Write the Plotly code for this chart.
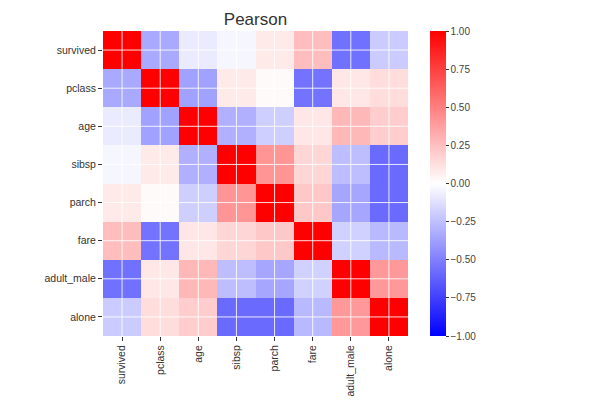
import plotly.graph_objects as go

labels = ["survived", "pclass", "age", "sibsp", "parch", "fare", "adult_male", "alone"]

corr = [
    [1.000, -0.338, -0.077, -0.035, 0.082, 0.257, -0.557, -0.203],
    [-0.338, 1.000, -0.369, 0.083, 0.018, -0.549, 0.094, 0.135],
    [-0.077, -0.369, 1.000, -0.308, -0.189, 0.096, 0.280, 0.198],
    [-0.035, 0.083, -0.308, 1.000, 0.415, 0.160, -0.254, -0.584],
    [0.082, 0.018, -0.189, 0.415, 1.000, 0.216, -0.350, -0.583],
    [0.257, -0.549, 0.096, 0.160, 0.216, 1.000, -0.182, -0.274],
    [-0.557, 0.094, 0.280, -0.254, -0.350, -0.182, 1.000, 0.405],
    [-0.203, 0.135, 0.198, -0.584, -0.583, -0.274, 0.405, 1.000],
]

cbar_ticks = [-1.0, -0.75, -0.5, -0.25, 0.0, 0.25, 0.5, 0.75, 1.0]

font_family = "Liberation Sans, Arial, sans-serif"

fig = go.Figure(
    go.Heatmap(
        z=corr,
        x=labels,
        y=labels,
        zmin=-1,
        zmax=1,
        colorscale=[[0.0, "rgb(0,0,255)"], [0.5, "rgb(255,255,255)"], [1.0, "rgb(255,0,0)"]],
        xgap=0,
        ygap=0,
        colorbar=dict(
            x=(430 - 103) / 305,
            xanchor="left",
            xpad=0,
            ypad=0,
            y=0.5,
            yanchor="middle",
            len=1,
            lenmode="fraction",
            thickness=16,
            outlinewidth=0,
            ticks="outside",
            ticklen=3,
            tickwidth=1,
            tickcolor="#333",
            tickvals=cbar_ticks,
            tickformat=".2f",
            tickfont=dict(size=10, color="#444", family=font_family),
        ),
        hoverongaps=False,
    )
)

# white grid lines drawn over cells at the tick positions
shapes = []
n = len(labels)
for i in range(n):
    shapes.append(dict(type="line", xref="x", yref="paper", x0=i, x1=i, y0=0, y1=1,
                       line=dict(color="rgba(255,255,255,0.85)", width=1), layer="above"))
    shapes.append(dict(type="line", xref="paper", yref="y", x0=0, x1=1, y0=i, y1=i,
                       line=dict(color="rgba(255,255,255,0.85)", width=1), layer="above"))

fig.update_layout(
    width=600,
    height=400,
    margin=dict(l=103, r=192, t=31, b=64, autoexpand=False),
    paper_bgcolor="white",
    plot_bgcolor="white",
    font=dict(family=font_family, color="#333"),
    title=dict(text="Pearson", x=(255.5) / 600, xanchor="center", y=1 - 19 / 400, yanchor="middle",
               font=dict(size=17, color="#333", family=font_family)),
    shapes=shapes,
    xaxis=dict(
        tickangle=-90,
        ticks="outside",
        ticklen=4,
        tickcolor="#333",
        tickfont=dict(size=10.5, color="#333"),
        showgrid=False,
        zeroline=False,
        showline=False,
        automargin=False,
    ),
    yaxis=dict(
        autorange="reversed",
        ticks="outside",
        ticklen=4,
        tickcolor="#333",
        tickfont=dict(size=10.5, color="#333"),
        showgrid=False,
        zeroline=False,
        showline=False,
        automargin=False,
    ),
)

fig.write_html("out.html")
